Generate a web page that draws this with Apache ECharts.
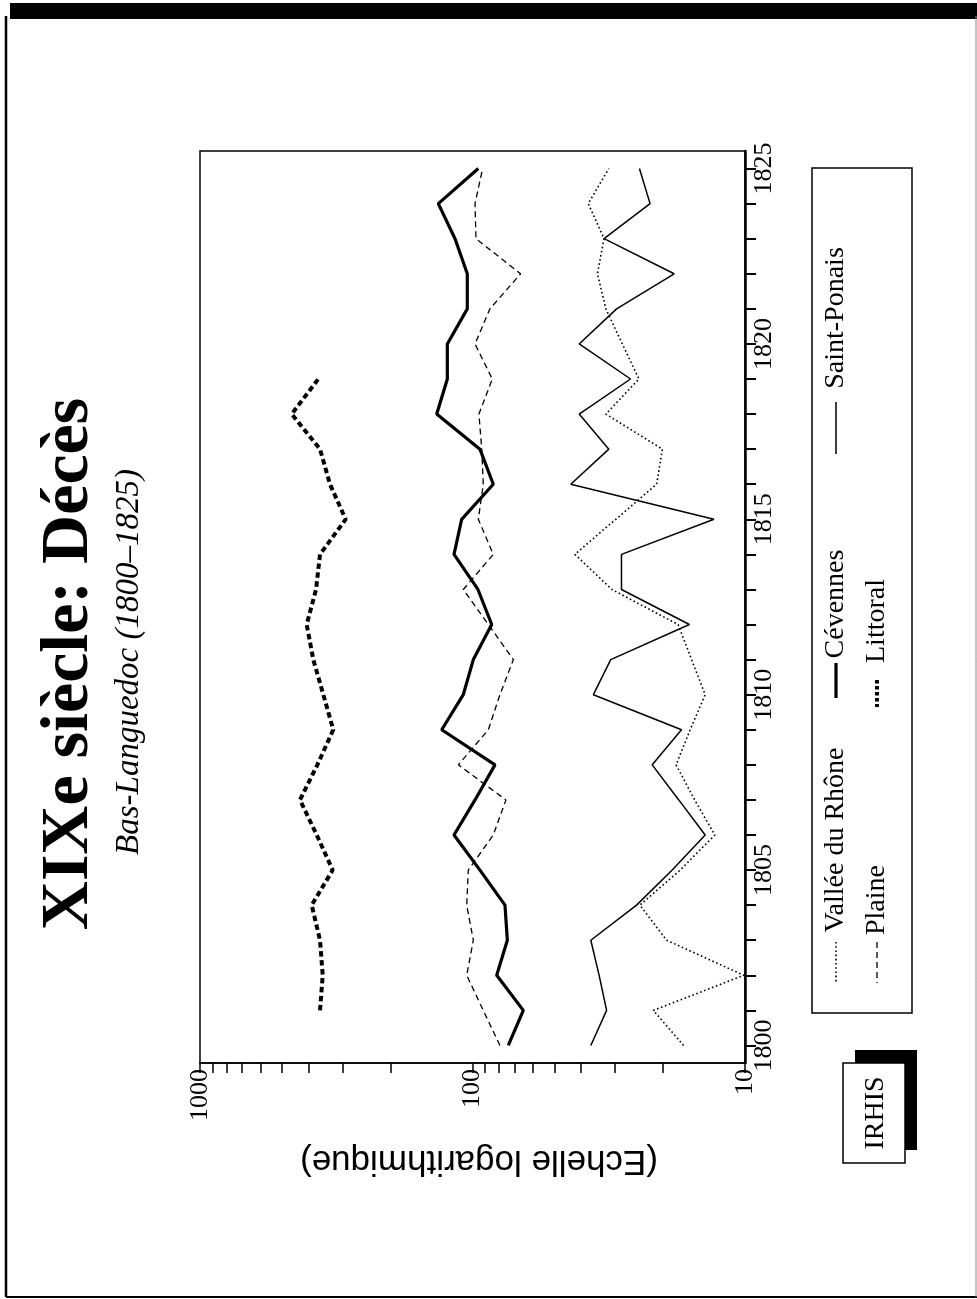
<!DOCTYPE html>
<html>
<head>
<meta charset="utf-8">
<script src="https://cdn.jsdelivr.net/npm/echarts@6/dist/echarts.min.js"></script>
<style>
html,body{margin:0;padding:0;background:#fff;}
#chart{width:977px;height:1299px;}
</style>
</head>
<body>
<div id="chart"></div>
<script>
// ---- data ----
const years = [1800,1801,1802,1803,1804,1805,1806,1807,1808,1809,1810,1811,1812,1813,1814,1815,1816,1817,1818,1819,1820,1821,1822,1823,1824,1825];
const yearLabels = [1800,1805,1810,1815,1820,1825];
const valueLabels = [10,100,1000];
const valleeDuRhone = [16.8,21.7,10.1,19.4,24.3,17.3,12.9,15.3,17.9,15.9,14.0,15.7,17.6,30.8,42.1,29.8,21.1,20.1,32.4,24.5,28.2,32.4,34.8,32.9,37.6,31.6];
const plaine = [79.3,91.3,105.0,99.3,105.0,103.6,83.9,75.4,112.7,87.5,79.3,70.8,87.5,108.1,83.9,95.2,91.3,92.5,94.7,84.6,97.9,86.3,66.6,97.1,97.9,91.8];
const cevennes = [73.9,65.1,81.5,74.5,76.0,93.9,116.9,97.9,82.7,129.7,108.1,99.3,85.0,95.5,116.9,109.6,83.9,93.9,135.3,123.7,123.7,104.5,104.5,115.9,133.5,95.2];
const littoral = [null,362.7,354.5,362.7,389.1,325.9,372.9,429.6,371.0,324.3,352.7,383.9,406.0,375.1,362.7,292.1,333.4,362.7,460.7,368.1,null,null,null,null,null,null];
const saintPonais = [36.8,32.2,34.3,36.8,25.0,18.5,14.0,17.5,21.9,17.1,36.0,31.1,16.0,28.4,28.4,13.0,43.6,31.6,40.6,26.3,40.6,29.6,18.2,32.9,22.3,24.4];

const seriesNames = ['Vallée du Rhône','Plaine','Cévennes','Littoral','Saint-Ponais'];

// minor ticks on the log axis
const logTicks = [];
[10,100].forEach(function(d){ for (let k=1;k<10;k++) logTicks.push(d*k); });
logTicks.push(1000);

function pairs(vals){
  const out = [];
  for (let i=0;i<years.length;i++){
    if (vals[i] != null) out.push([vals[i], years[i]]);
  }
  return out;
}

const SERIF = "'Liberation Serif', 'Times New Roman', serif";
const SANS = "'Liberation Sans', Arial, sans-serif";

const chart = echarts.init(document.getElementById('chart'), null, {renderer:'canvas'});

function vtext(x, y, text, font, rot){
  return {
    type:'text', x:x, y:y, rotation: rot === undefined ? Math.PI/2 : rot,
    style:{text:text, font:font, fill:'#000', textAlign:'center', textVerticalAlign:'middle'},
    z: 10
  };
}
function vline(x, y1, y2, w, dash){
  return {
    type:'line', shape:{x1:x, y1:y1, x2:x, y2:y2},
    style:{stroke:'#000', lineWidth:w, lineDash: dash || null}, z: 10
  };
}

const option = {
  animation:false,
  backgroundColor:'#fff',
  grid:{left:200, right:232, top:151, bottom:236, show:true, borderColor:'#000', borderWidth:1.5, backgroundColor:'transparent'},
  xAxis:{
    type:'log', min:10, max:1000, logBase:10, inverse:true, position:'bottom',
    axisLine:{show:true, onZero:false, lineStyle:{color:'#000', width:1.5}},
    axisTick:{show:true, inside:false, length:10, lineStyle:{color:'#000', width:1.5}, customValues: logTicks},
    minorTick:{show:false},
    splitLine:{show:false},
    axisLabel:{show:true, rotate:90, margin:6, color:'#000', fontFamily:SERIF, fontSize:26, customValues: valueLabels,
      formatter:function(v){return String(Math.round(v));}}
  },
  yAxis:{
    type:'value', min:1799.5, max:1825.5, position:'right',
    axisLine:{show:true, onZero:false, lineStyle:{color:'#000', width:2.5}},
    axisTick:{show:true, inside:false, length:11, lineStyle:{color:'#000', width:2}, customValues: years},
    splitLine:{show:false},
    axisLabel:{show:true, rotate:90, margin:6, color:'#000', fontFamily:SERIF, fontSize:26, customValues: yearLabels,
      formatter:function(v){return String(Math.round(v));}}
  },
  series:[
    {name:seriesNames[0], type:'line', data:pairs(valleeDuRhone), showSymbol:false, silent:true,
      lineStyle:{color:'#000', width:1.6, type:[1.6,2.6], cap:'butt'}},
    {name:seriesNames[1], type:'line', data:pairs(plaine), showSymbol:false, silent:true,
      lineStyle:{color:'#000', width:1.3, type:[6,4], cap:'butt'}},
    {name:seriesNames[2], type:'line', data:pairs(cevennes), showSymbol:false, silent:true,
      lineStyle:{color:'#000', width:3.2, type:'solid'}},
    {name:seriesNames[3], type:'line', data:pairs(littoral), showSymbol:false, silent:true,
      lineStyle:{color:'#000', width:4, type:[5.5,3.5], cap:'butt'}},
    {name:seriesNames[4], type:'line', data:pairs(saintPonais), showSymbol:false, silent:true,
      lineStyle:{color:'#000', width:1.5, type:'solid'}}
  ],
  graphic:[
    // page frame
    {type:'rect', shape:{x:10, y:3, width:967, height:16}, style:{fill:'#000'}, z:5},
    {type:'line', shape:{x1:6, y1:16, x2:6, y2:1297}, style:{stroke:'#000', lineWidth:2.5}, z:5},
    {type:'line', shape:{x1:6, y1:1297, x2:977, y2:1297}, style:{stroke:'#000', lineWidth:2}, z:5},
    {type:'line', shape:{x1:976, y1:16, x2:976, y2:1297}, style:{stroke:'#888', lineWidth:1}, z:5},
    // titles
    vtext(69, 664, 'XIXe siècle: Décès', 'bold 68px ' + SERIF),
    vtext(129, 662, 'Bas-Languedoc (1800–1825)', 'italic 33px ' + SERIF),
    // axis name (upside down)
    vtext(479, 1161, '(Echelle logarithmique)', '35px ' + SANS, Math.PI),
    // legend box
    {type:'rect', shape:{x:812, y:168, width:100, height:845}, style:{fill:'none', stroke:'#000', lineWidth:1.5}, z:9},
    vline(836, 942, 983, 1.6, [1.6,2.6]),
    vtext(836, 840, seriesNames[0], '28px ' + SERIF),
    vline(836, 663, 698, 3.2),
    vtext(836, 604, seriesNames[2], '28px ' + SERIF),
    vline(836, 402, 454, 1.5),
    vtext(836, 318, seriesNames[4], '28px ' + SERIF),
    vline(877, 942, 983, 1.3, [6,4]),
    vtext(877, 900, seriesNames[1], '28px ' + SERIF),
    vline(877, 680, 707, 4, [3.5,2.5]),
    vtext(877, 621, seriesNames[3], '28px ' + SERIF),
    // IRHIS logo
    {type:'rect', shape:{x:855, y:1050, width:62, height:100}, style:{fill:'#000'}, z:9},
    {type:'rect', shape:{x:843, y:1063, width:62, height:100}, style:{fill:'#fff', stroke:'#000', lineWidth:1.5}, z:10},
    vtext(876, 1113, 'IRHIS', '28px ' + SERIF)
  ]
};
chart.setOption(option);
</script>
</body>
</html>
